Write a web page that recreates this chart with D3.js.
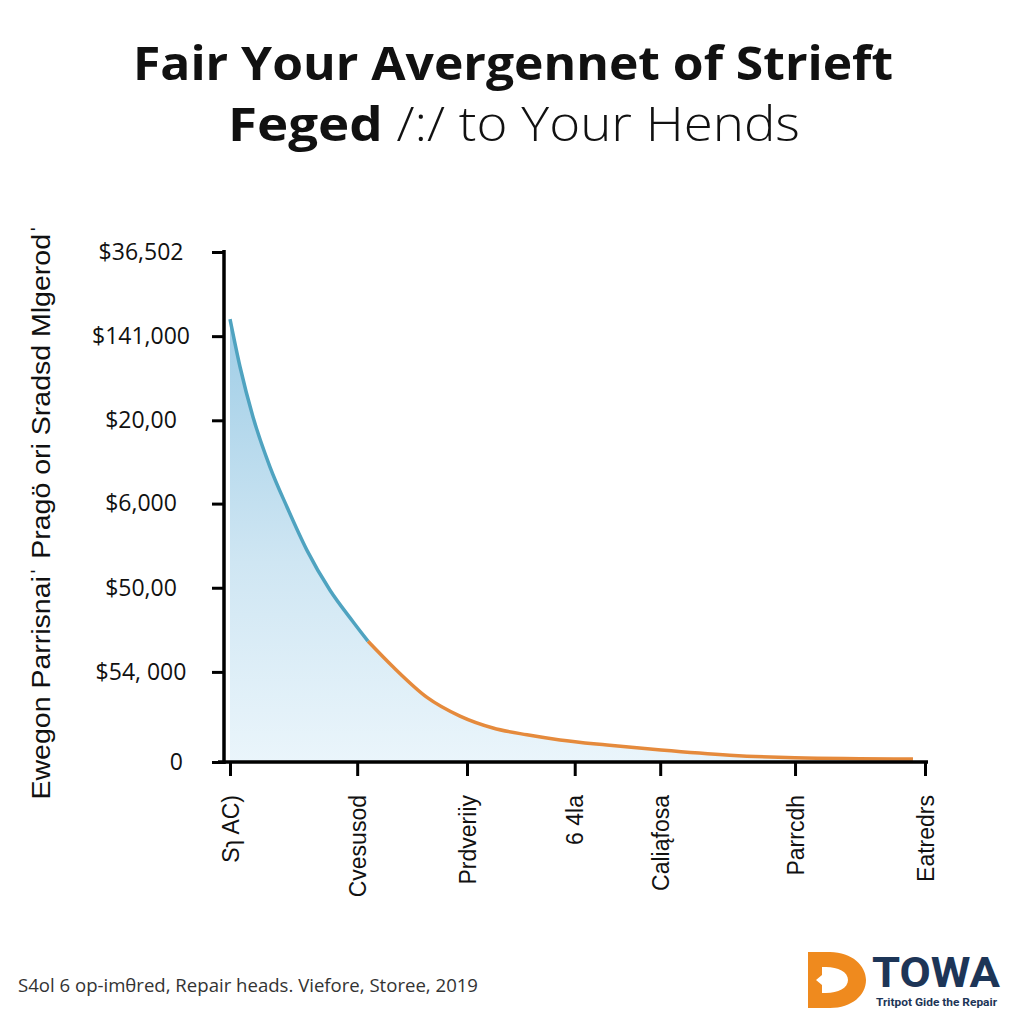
<!DOCTYPE html>
<html><head><meta charset="utf-8">
<script src="https://cdn.jsdelivr.net/npm/d3@7"></script>
<style>html,body{margin:0;padding:0;background:#fff;}svg{display:block;}</style>
</head><body>
<script>
// ---- data ----
const titleLine1 = "Fair Your Avergennet of Strieft";
const titleLine2Bold = "Feged";
const titleLine2Rest = " /:/ to Your Hends";
const yAxisTitle = "Ewegon Parrisnaiˈ Pragö ori Sradsd Mlgerodˈ";
const yTickValues = [0, 1.06, 2.05, 3.04, 4.02, 5.01, 6];
const yTickLabels = ["0", "$54, 000", "$50,00", "$6,000", "$20,00", "$141,000", "$36,502"];
const xCategories = ["Sɿ  AC)", "Cvesusod", "Prdveriiy", "6  4la", "Caliąfosa", "Parrcdh", "Eatredrs"];
const xCategoryValues = [0, 18.3, 34.1, 49.6, 61.9, 81.3, 100];
const curveX = [0, 1.44, 3.31, 5.76, 8.20, 11.08, 14.39, 17.70, 19.86, 23.45, 28.35, 33.09, 37.84, 42.73, 47.48, 54.24, 62.01, 71.9, 81.29, 98.27];
const curveY = [5.21, 4.65, 4.06, 3.47, 3.00, 2.49, 2.02, 1.65, 1.42, 1.12, 0.76, 0.54, 0.40, 0.32, 0.26, 0.20, 0.14, 0.08, 0.05, 0.035];
const splitIndex = 8;
const footerText = "S4ol 6 op-imθred, Repair heads. Viefore, Storee, 2019";
const logoText = "TOWA";
const logoSub = "Tritpot Gide the Repair";

// ---- layout ----
const W = 1024, H = 1024;
const svg = d3.select("body").append("svg").attr("width", W).attr("height", H);
const defs = svg.append("defs");
const grad = defs.append("linearGradient").attr("id","areaGrad").attr("x1",0).attr("y1",0).attr("x2",0).attr("y2",1);
grad.append("stop").attr("offset","0%").attr("stop-color","#9fcde6");
grad.append("stop").attr("offset","55%").attr("stop-color","#cfe6f3");
grad.append("stop").attr("offset","100%").attr("stop-color","#eaf5fb");

const x = d3.scaleLinear().domain([0,100]).range([230, 925]);
const y = d3.scaleLinear().domain([0,6]).range([762, 252]);

// title
svg.append("text").attr("x", 513).attr("y", 80).attr("text-anchor","middle")
  .attr("font-family","'Open Sans', Lato, sans-serif").attr("font-weight",700)
  .attr("font-size",47).attr("fill","#111")
  .attr("textLength",760).attr("lengthAdjust","spacingAndGlyphs").text(titleLine1);
const t2 = svg.append("text").attr("x", 514).attr("y", 141).attr("text-anchor","middle")
  .attr("font-family","'Open Sans', Lato, sans-serif").attr("font-size",47).attr("fill","#111")
  .attr("textLength",572).attr("lengthAdjust","spacingAndGlyphs");
t2.append("tspan").attr("font-weight",700).text(titleLine2Bold);
t2.append("tspan").attr("font-weight",300).text(titleLine2Rest);

const pts = curveX.map((v,i)=>({x:v, y:curveY[i]}));
// area
const area = d3.area().x(d=>x(d.x)).y0(y(0)).y1(d=>y(d.y)).curve(d3.curveMonotoneX);
svg.append("path").datum(pts).attr("d", area).attr("fill","url(#areaGrad)");
const line = d3.line().x(d=>x(d.x)).y(d=>y(d.y)).curve(d3.curveMonotoneX);
svg.append("path").datum(pts.slice(0, splitIndex+1)).attr("d", line)
  .attr("fill","none").attr("stroke","#4fa3c0").attr("stroke-width",3.5);
svg.append("path").datum(pts.slice(splitIndex)).attr("d", line)
  .attr("fill","none").attr("stroke","#e58a3c").attr("stroke-width",3.5);

// y axis
const yAxis = d3.axisLeft(y).tickValues(yTickValues)
  .tickFormat((d,i)=>yTickLabels[i]).tickSize(12).tickSizeOuter(0);
const gy = svg.append("g").attr("transform","translate(224,0)").call(yAxis);
gy.select(".domain").remove();
gy.append("line").attr("x1",0).attr("x2",0).attr("y1",250).attr("y2",764).attr("stroke","#000").attr("stroke-width",3.5);
gy.selectAll(".tick line").attr("stroke","#000").attr("stroke-width",3);
gy.selectAll(".tick text").attr("font-family","'Open Sans', 'Noto Sans', sans-serif")
  .attr("font-size",23).attr("font-weight",500).attr("fill","#111")
  .attr("text-anchor",(d,i)=> i===0 ? "end" : "middle")
  .attr("x",(d,i)=> i===0 ? -41 : -83);

// x axis
const xAxis = d3.axisBottom(x).tickValues(xCategoryValues)
  .tickFormat((d,i)=>xCategories[i]).tickSize(14).tickSizeOuter(0);
const gx = svg.append("g").attr("transform","translate(0,762)").call(xAxis);
gx.select(".domain").remove();
gx.append("line").attr("x1",218).attr("x2",928).attr("y1",0).attr("y2",0).attr("stroke","#000").attr("stroke-width",3.5);
gx.selectAll(".tick line").attr("stroke","#000").attr("stroke-width",3);
gx.selectAll(".tick text")
  .attr("font-family","'Liberation Sans', Arial, sans-serif").attr("font-size",23).attr("fill","#111")
  .attr("text-anchor","end").attr("dy","0.35em")
  .attr("transform","translate(0,33) rotate(-90)").attr("x",0).attr("y",0);

// y axis title
svg.append("text").attr("transform","translate(41,512) rotate(-90)").attr("text-anchor","middle")
  .attr("font-family","'Liberation Sans', Arial, sans-serif").attr("font-size",25).attr("fill","#111")
  .attr("dy","0.35em").attr("textLength",575).attr("lengthAdjust","spacingAndGlyphs").text(yAxisTitle);

// footer
svg.append("text").attr("x",18).attr("y",992)
  .attr("font-family","'Open Sans', sans-serif").attr("font-size",18).attr("fill","#333")
  .attr("textLength",460).attr("lengthAdjust","spacingAndGlyphs").text(footerText);

// logo
const logo = svg.append("g");
logo.append("path").attr("d","M808,952 L830,952 C852,952 866,966 866,980 C866,995 852,1008 830,1008 L808,1008 L808,993 L826,993 C838,993 848,988 848,980 C848,972 838,967 826,967 L808,967 Z")
  .attr("fill","#ef8a1e");
logo.append("path").attr("d","M808,967 L822,967 L822,975 L816,980 L822,985 L822,993 L808,993 Z").attr("fill","#ef8a1e");
logo.append("text").attr("x",872).attr("y",987).attr("font-family","Roboto, 'Liberation Sans', sans-serif")
  .attr("font-weight",700).attr("font-size",42).attr("fill","#1d3557")
  .attr("textLength",128).attr("lengthAdjust","spacingAndGlyphs").text(logoText);
logo.append("text").attr("x",876).attr("y",1006).attr("font-family","Roboto, 'Liberation Sans', sans-serif")
  .attr("font-weight",700).attr("font-size",10).attr("fill","#1d3557")
  .attr("textLength",121).attr("lengthAdjust","spacingAndGlyphs").text(logoSub);
</script>
</body></html>
